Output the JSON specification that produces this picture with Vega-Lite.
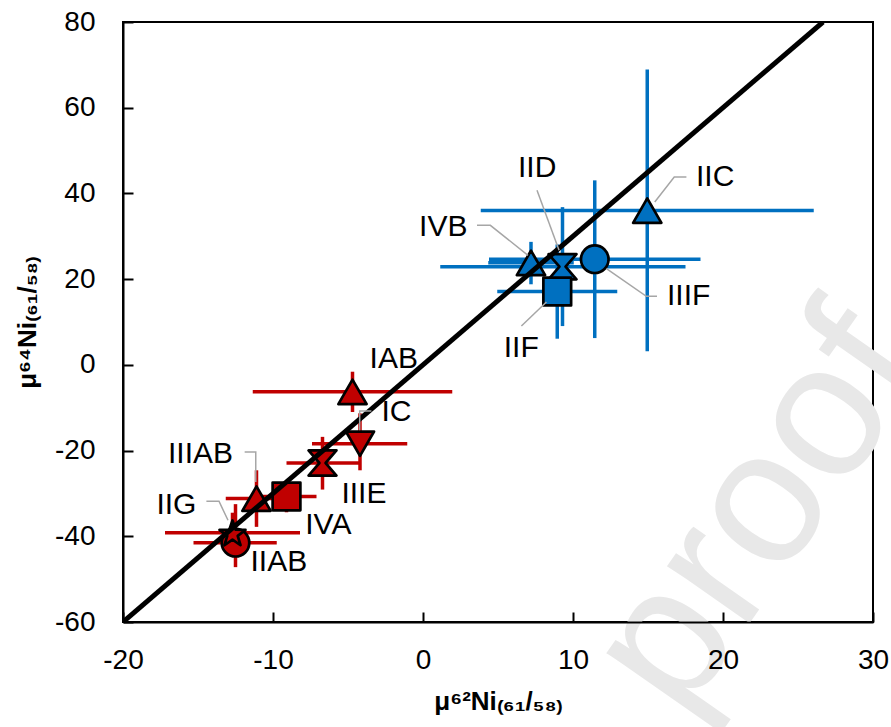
{
  "$schema": "https://vega.github.io/schema/vega-lite/v6.json",
  "width": 750,
  "height": 600,
  "autosize": "none",
  "padding": {"left": 123, "top": 22, "right": 18, "bottom": 105},
  "background": "white",
  "config": {
    "font": "Liberation Sans",
    "view": {"stroke": "black", "strokeWidth": 2},
    "axis": {
      "domainColor": "black", "domainWidth": 2,
      "tickColor": "black", "tickWidth": 2, "tickSize": -10,
      "labelFontSize": 28, "labelColor": "black", "labelFont": "Liberation Sans",
      "labelFlush": false, "labelOverlap": false,
      "labelExpr": "replace(datum.label, '−', '-')",
      "titleFont": "Liberation Sans", "titleFontSize": 26, "titleFontWeight": "bold", "titleColor": "black",
      "grid": false
    }
  },
  "datasets": {
    "points": [
      {"name": "IAB", "group": "red", "marker": "triangle", "x": -4.7, "y": -6.3, "xlo": -11.35, "xhi": 1.95, "ylo": -11.0, "yhi": -1.6},
      {"name": "IC", "group": "red", "marker": "tridown", "x": -4.2, "y": -18.4, "xlo": -7.4, "xhi": -1.05, "ylo": -24.6, "yhi": -11.3},
      {"name": "IIIE", "group": "red", "marker": "hourglass", "x": -6.7, "y": -22.9, "xlo": -9.1, "xhi": -4.25, "ylo": -29.1, "yhi": -16.8},
      {"name": "IVA", "group": "red", "marker": "square", "x": -9.1, "y": -30.7, "xlo": -11.1, "xhi": -7.1, "ylo": -34.4, "yhi": -27.4},
      {"name": "IIIAB", "group": "red", "marker": "triangle", "x": -11.1, "y": -31.2, "xlo": -13.15, "xhi": -9.1, "ylo": -37.8, "yhi": -24.6},
      {"name": "IIAB", "group": "red", "marker": "circle", "x": -12.5, "y": -41.5, "xlo": -15.3, "xhi": -9.75, "ylo": -47.2, "yhi": -32.5},
      {"name": "IIG", "group": "red", "marker": "star", "x": -12.7, "y": -39.2, "xlo": -17.2, "xhi": -8.2, "ylo": -44.0, "yhi": -34.5},
      {"name": "IIC", "group": "blue", "marker": "triangle", "x": 14.95, "y": 36.0, "xlo": 3.85, "xhi": 26.05, "ylo": 3.15, "yhi": 68.9},
      {"name": "IIIF", "group": "blue", "marker": "circle", "x": 11.45, "y": 24.65, "xlo": 4.4, "xhi": 18.5, "ylo": 6.25, "yhi": 43.05},
      {"name": "IID", "group": "blue", "marker": "hourglass", "x": 9.3, "y": 22.9, "xlo": 1.15, "xhi": 17.5, "ylo": 9.05, "yhi": 36.8},
      {"name": "IVB", "group": "blue", "marker": "triangle", "x": 7.2, "y": 23.8, "xlo": 4.35, "xhi": 10.05, "ylo": 18.8, "yhi": 28.7},
      {"name": "IIF", "group": "blue", "marker": "square", "x": 8.95, "y": 17.1, "xlo": 4.95, "xhi": 12.95, "ylo": 6.1, "yhi": 28.1}
    ],
    "leaders": [
      {"name": "IIC", "i": 0, "x": 15.45, "y": 38.0}, {"name": "IIC", "i": 1, "x": 16.75, "y": 43.83}, {"name": "IIC", "i": 2, "x": 17.56, "y": 43.83},
      {"name": "IIIF", "i": 0, "x": 12.23, "y": 22.46}, {"name": "IIIF", "i": 1, "x": 14.89, "y": 16.0}, {"name": "IIIF", "i": 2, "x": 15.6, "y": 16.0},
      {"name": "IIF", "i": 0, "x": 8.23, "y": 14.67}, {"name": "IIF", "i": 1, "x": 6.56, "y": 9.07},
      {"name": "IID", "i": 0, "x": 7.6, "y": 40.73}, {"name": "IID", "i": 1, "x": 9.07, "y": 26.73},
      {"name": "IVB", "i": 0, "x": 3.6, "y": 32.56}, {"name": "IVB", "i": 1, "x": 4.49, "y": 32.56}, {"name": "IVB", "i": 2, "x": 7.0, "y": 25.56},
      {"name": "IC", "i": 0, "x": -4.22, "y": -15.27}, {"name": "IC", "i": 1, "x": -4.22, "y": -10.77}, {"name": "IC", "i": 2, "x": -3.44, "y": -10.77},
      {"name": "IIIAB", "i": 0, "x": -11.89, "y": -20.33}, {"name": "IIIAB", "i": 1, "x": -11.15, "y": -20.33}, {"name": "IIIAB", "i": 2, "x": -11.15, "y": -27.33},
      {"name": "IIG", "i": 0, "x": -14.44, "y": -31.83}, {"name": "IIG", "i": 1, "x": -13.6, "y": -31.83}, {"name": "IIG", "i": 2, "x": -13.0, "y": -36.27}
    ],
    "labels": [
      {"name": "IIC", "x": 19.48, "y": 43.83},
      {"name": "IIIF", "x": 17.71, "y": 16.11},
      {"name": "IIF", "x": 6.55, "y": 3.86},
      {"name": "IID", "x": 7.61, "y": 45.86},
      {"name": "IVB", "x": 1.35, "y": 32.17},
      {"name": "IAB", "x": -1.95, "y": 1.3},
      {"name": "IC", "x": -1.77, "y": -11.07},
      {"name": "IIIE", "x": -3.94, "y": -30.04},
      {"name": "IVA", "x": -6.31, "y": -37.44},
      {"name": "IIAB", "x": -9.61, "y": -46.0},
      {"name": "IIIAB", "x": -14.83, "y": -20.7},
      {"name": "IIG", "x": -16.44, "y": -32.77}
    ],
    "fit": [{"x": -20, "y": -60}, {"x": 26.667, "y": 80}],
    "watermark": [{"text": "proof", "x": 22.4, "y": -34}]
  },
  "layer": [
    {
      "data": {"name": "watermark"},
      "mark": {"type": "text", "fontSize": 190, "color": "#E8E8E8", "angle": -55, "align": "center", "baseline": "middle", "font": "Liberation Sans"},
      "encoding": {
        "x": {"field": "x", "type": "quantitative", "scale": {"domain": [-20, 30], "nice": false, "zero": false},
              "axis": {"values": [-20, -10, 0, 10, 20, 30], "title": "μ⁶²Ni₍₆₁/₅₈₎", "labelPadding": 34, "titlePadding": 14, "zindex": 2}},
        "y": {"field": "y", "type": "quantitative", "scale": {"domain": [-60, 80], "nice": false, "zero": false},
              "axis": {"values": [-60, -40, -20, 0, 20, 40, 60, 80], "title": "μ⁶⁴Ni₍₆₁/₅₈₎", "labelPadding": 38, "titlePadding": 14, "zindex": 2}},
        "text": {"field": "text"}
      }
    },
    {
      "data": {"name": "points"},
      "mark": {"type": "rule", "strokeWidth": 3.5},
      "encoding": {
        "x": {"field": "xlo", "type": "quantitative", "scale": {"domain": [-20, 30], "nice": false, "zero": false}},
        "x2": {"field": "xhi"},
        "y": {"field": "y", "type": "quantitative", "scale": {"domain": [-60, 80], "nice": false, "zero": false}},
        "color": {"field": "group", "type": "nominal", "scale": {"domain": ["red", "blue"], "range": ["#C00000", "#0070C0"]}, "legend": null}
      }
    },
    {
      "data": {"name": "points"},
      "mark": {"type": "rule", "strokeWidth": 3.5},
      "encoding": {
        "x": {"field": "x", "type": "quantitative", "scale": {"domain": [-20, 30], "nice": false, "zero": false}},
        "y": {"field": "ylo", "type": "quantitative", "scale": {"domain": [-60, 80], "nice": false, "zero": false}},
        "y2": {"field": "yhi"},
        "color": {"field": "group", "type": "nominal", "scale": {"domain": ["red", "blue"], "range": ["#C00000", "#0070C0"]}, "legend": null}
      }
    },
    {
      "data": {"name": "points"},
      "mark": {"type": "point", "filled": true, "stroke": "black", "strokeWidth": 2.7, "opacity": 1, "strokeJoin": "round"},
      "encoding": {
        "x": {"field": "x", "type": "quantitative", "scale": {"domain": [-20, 30], "nice": false, "zero": false}},
        "y": {"field": "y", "type": "quantitative", "scale": {"domain": [-60, 80], "nice": false, "zero": false}},
        "fill": {"field": "group", "type": "nominal", "scale": {"domain": ["red", "blue"], "range": ["#C00000", "#0070C0"]}, "legend": null},
        "shape": {"field": "marker", "type": "nominal", "scale": {"domain": ["triangle", "tridown", "hourglass", "square", "circle", "star"], "range": ["triangle-up", "triangle-down", "M-1,-0.9L1,-0.9L0.22,0L1,0.9L-1,0.9L-0.22,0Z", "square", "circle", "M0,-0.905L0.235,-0.229L0.951,-0.214L0.38,0.219L0.588,0.904L0,0.495L-0.588,0.904L-0.38,0.219L-0.951,-0.214L-0.235,-0.229Z"]}, "legend": null},
        "size": {"field": "marker", "type": "nominal", "scale": {"domain": ["triangle", "tridown", "hourglass", "square", "circle", "star"], "range": [800, 750, 600, 500, 800, 1200]}, "legend": null}
      }
    },
    {
      "data": {"name": "fit"},
      "mark": {"type": "line", "color": "black", "strokeWidth": 5, "clip": true},
      "encoding": {
        "x": {"field": "x", "type": "quantitative", "scale": {"domain": [-20, 30], "nice": false, "zero": false}},
        "y": {"field": "y", "type": "quantitative", "scale": {"domain": [-60, 80], "nice": false, "zero": false}}
      }
    },
    {
      "data": {"name": "leaders"},
      "mark": {"type": "line", "color": "#A6A6A6", "strokeWidth": 1.5},
      "encoding": {
        "x": {"field": "x", "type": "quantitative", "scale": {"domain": [-20, 30], "nice": false, "zero": false}},
        "y": {"field": "y", "type": "quantitative", "scale": {"domain": [-60, 80], "nice": false, "zero": false}},
        "detail": {"field": "name"},
        "order": {"field": "i", "type": "quantitative"}
      }
    },
    {
      "data": {"name": "labels"},
      "mark": {"type": "text", "fontSize": 30, "color": "black", "align": "center", "baseline": "middle", "font": "Liberation Sans"},
      "encoding": {
        "x": {"field": "x", "type": "quantitative", "scale": {"domain": [-20, 30], "nice": false, "zero": false}},
        "y": {"field": "y", "type": "quantitative", "scale": {"domain": [-60, 80], "nice": false, "zero": false}},
        "text": {"field": "name"}
      }
    }
  ]
}
